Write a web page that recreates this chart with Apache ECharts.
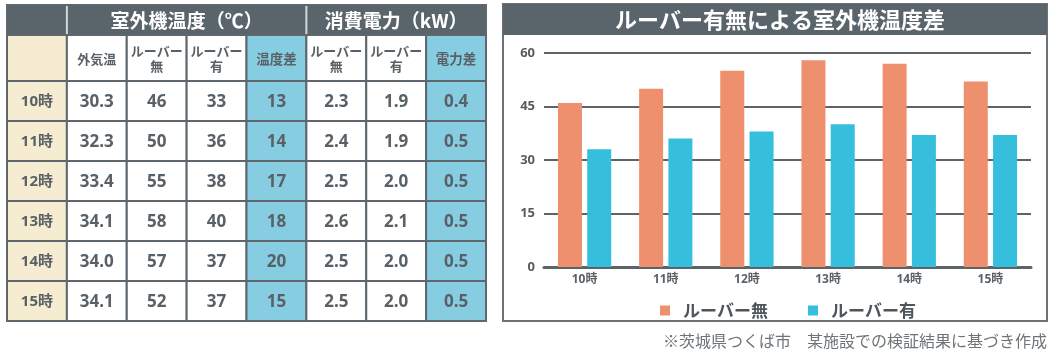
<!DOCTYPE html>
<html>
<head>
<meta charset="utf-8">
<script src="https://cdn.jsdelivr.net/npm/echarts@6/dist/echarts.min.js"></script>
<style>
html,body{margin:0;padding:0;background:#fff;}
#main{width:1054px;height:355px;}
</style>
</head>
<body>
<div id="main"></div>
<script>
// ---- data ----
const hours = ['10時', '11時', '12時', '13時', '14時', '15時'];
const outdoorTemp = [30.3, 32.3, 33.4, 34.1, 34.0, 34.1];
const unitTempWithout = [46, 50, 55, 58, 57, 52];
const unitTempWith = [33, 36, 38, 40, 37, 37];
const tempDiff = [13, 14, 17, 18, 20, 15];
const powerWithout = [2.3, 2.4, 2.5, 2.6, 2.5, 2.5];
const powerWith = [1.9, 1.9, 2.0, 2.1, 2.0, 2.0];
const powerDiff = [0.4, 0.5, 0.5, 0.5, 0.5, 0.5];
const groupHeaders = ['室外機温度（℃）', '消費電力（kW）'];
const columnHeaders = ['外気温', 'ルーバー\n無', 'ルーバー\n有', '温度差', 'ルーバー\n無', 'ルーバー\n有', '電力差'];
const seriesNames = ['ルーバー無', 'ルーバー有'];
const chartTitle = 'ルーバー有無による室外機温度差';
const yTicks = [0, 15, 30, 45, 60];
const footnote = '※茨城県つくば市　某施設での検証結果に基づき作成';

// ---- styles ----
const FONT = "'Noto Sans CJK JP', 'Noto Sans', sans-serif";
const NUMFONT = "'Open Sans', 'Noto Sans CJK JP', sans-serif";
const DARK = '#59646b';
const BORDER = '#5e676d';
const CREAM = '#f6ecd1';
const BLUE = '#86cde2';
const TEXT = '#5a6166';
const ORANGE = '#ee8f6d';
const CYAN = '#36bedd';

// ---- table cells (column/row index units) ----
const H1 = 0.75, H2 = 1.15; // header row heights in row units
const cells = [];
cells.push({x0: 0, x1: 1, y0: 0, y1: H1, fill: DARK, text: ''});
cells.push({x0: 1, x1: 5, y0: 0, y1: H1, fill: DARK, text: groupHeaders[0], kind: 'group', sep: true});
cells.push({x0: 5, x1: 8, y0: 0, y1: H1, fill: DARK, text: groupHeaders[1], kind: 'group', sep: true});
cells.push({x0: 0, x1: 1, y0: H1, y1: H1 + H2, fill: CREAM, text: ''});
columnHeaders.forEach((h, j) => {
  const blue = (j === 3 || j === 6);
  cells.push({x0: j + 1, x1: j + 2, y0: H1, y1: H1 + H2, fill: blue ? BLUE : '#fff', text: h, kind: 'colhead', blue});
});
const columns = [
  outdoorTemp.map(v => v.toFixed(1)),
  unitTempWithout.map(String),
  unitTempWith.map(String),
  tempDiff.map(String),
  powerWithout.map(v => v.toFixed(1)),
  powerWith.map(v => v.toFixed(1)),
  powerDiff.map(v => v.toFixed(1))
];
hours.forEach((hr, i) => {
  const y0 = H1 + H2 + i, y1 = y0 + 1;
  cells.push({x0: 0, x1: 1, y0, y1, fill: CREAM, text: hr, kind: 'hour'});
  columns.forEach((col, j) => {
    const blue = (j === 3 || j === 6);
    cells.push({x0: j + 1, x1: j + 2, y0, y1, fill: blue ? BLUE : '#fff', text: col[i], kind: 'num'});
  });
});

function textStyleFor(c) {
  switch (c.kind) {
    case 'group': return {fill: '#fff', fontSize: 19, fontWeight: 'bold', fontFamily: FONT};
    case 'colhead': return c.blue
      ? {fill: TEXT, fontSize: 13.5, fontWeight: 'bold', fontFamily: FONT}
      : {fill: TEXT, fontSize: 13, fontWeight: 'bold', lineHeight: 15, fontFamily: FONT};
    case 'hour': return {fill: TEXT, fontSize: 15, fontWeight: 'bold', fontFamily: NUMFONT};
    case 'num': return {fill: TEXT, fontSize: 17, fontWeight: 'bold', fontFamily: NUMFONT};
    default: return {fill: TEXT, fontSize: 14, fontFamily: FONT};
  }
}

function renderCell(params, api) {
  const c = cells[params.dataIndex];
  const p0 = api.coord([api.value(0), api.value(2)]);
  const p1 = api.coord([api.value(1), api.value(3)]);
  const x = Math.min(p0[0], p1[0]), y = Math.min(p0[1], p1[1]);
  const w = Math.abs(p1[0] - p0[0]), h = Math.abs(p1[1] - p0[1]);
  const ts = textStyleFor(c);
  const children = [{
    type: 'rect',
    shape: {x, y, width: w, height: h},
    style: {fill: c.fill, stroke: BORDER, lineWidth: 2}
  }];
  if (c.sep) {
    children.push({
      type: 'line',
      shape: {x1: x, y1: y + 1, x2: x, y2: y + h - 1},
      style: {stroke: '#d3d7da', lineWidth: 2}
    });
  }
  if (c.text) {
    children.push({
      type: 'text',
      style: Object.assign({
        text: c.text, x: x + w / 2, y: y + h / 2 + 1,
        align: 'center', verticalAlign: 'middle'
      }, ts)
    });
  }
  return {type: 'group', children};
}

const chart = echarts.init(document.getElementById('main'), null, {renderer: 'canvas'});

const option = {
  backgroundColor: '#fff',
  animation: false,
  textStyle: {fontFamily: FONT},
  graphic: [
    {type: 'rect', z: -10, shape: {x: 503, y: 4, width: 544, height: 317},
     style: {fill: '#fff', stroke: '#6b7378', lineWidth: 2}},
    {type: 'rect', z: -9, shape: {x: 503, y: 4, width: 544, height: 31},
     style: {fill: DARK}},
    {type: 'text', z: 5, style: {text: chartTitle, x: 780, y: 20, align: 'center', verticalAlign: 'middle',
      fill: '#fff', fontSize: 22, fontWeight: 'bold', fontFamily: FONT}},
    {type: 'text', z: 5, style: {text: footnote, x: 1047, y: 341, align: 'right', verticalAlign: 'middle',
      fill: '#6f7478', fontSize: 16, fontFamily: FONT}}
  ],
  legend: {
    data: seriesNames,
    left: 655, top: 297,
    icon: 'rect', itemWidth: 10, itemHeight: 10, itemGap: 40,
    textStyle: {fontSize: 17, fontWeight: 'bold', color: '#4f565b', fontFamily: FONT, padding: [0, 0, 0, 8]}
  },
  grid: [
    {left: 7, top: 5, width: 479, height: 316},
    {left: 544, top: 53, width: 487, height: 214}
  ],
  xAxis: [
    {gridIndex: 0, type: 'value', min: 0, max: 8, show: false},
    {gridIndex: 1, type: 'category', data: hours,
     axisLine: {show: true, lineStyle: {color: '#5d6468', width: 3}},
     axisTick: {show: false},
     axisLabel: {color: '#5b6267', fontSize: 12, fontWeight: 'bold', margin: 7, fontFamily: NUMFONT}}
  ],
  yAxis: [
    {gridIndex: 0, type: 'value', min: 0, max: H1 + H2 + hours.length, inverse: true, show: false},
    {gridIndex: 1, type: 'value', min: yTicks[0], max: yTicks[yTicks.length - 1], interval: yTicks[1] - yTicks[0],
     axisLine: {show: false}, axisTick: {show: false},
     splitLine: {lineStyle: {color: '#5d6468', width: 2}},
     axisLabel: {color: '#555c61', fontSize: 13, fontWeight: 'bold', margin: 9, fontFamily: NUMFONT}}
  ],
  series: [
    {type: 'custom', xAxisIndex: 0, yAxisIndex: 0, renderItem: renderCell,
     encode: {x: [0, 1], y: [2, 3]},
     data: cells.map(c => [c.x0, c.x1, c.y0, c.y1]), clip: false, silent: true},
    {name: seriesNames[0], type: 'bar', xAxisIndex: 1, yAxisIndex: 1, data: unitTempWithout,
     barWidth: 24, barGap: '22%', itemStyle: {color: ORANGE}},
    {name: seriesNames[1], type: 'bar', xAxisIndex: 1, yAxisIndex: 1, data: unitTempWith,
     barWidth: 24, barGap: '22%', itemStyle: {color: CYAN}}
  ]
};
chart.setOption(option);
</script>
</body>
</html>
